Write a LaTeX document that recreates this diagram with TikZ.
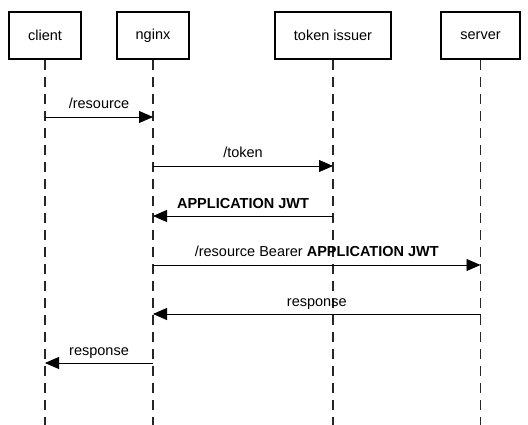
\documentclass[tikz,border=0pt]{standalone}
\usepackage{fontspec}
\setmainfont{Liberation Sans}
\usetikzlibrary{arrows.meta}

\begin{document}
\begin{tikzpicture}[x=1pt,y=-1pt,
	actor/.style={draw,line width=2.5pt,minimum height=47pt,inner sep=0pt,font=\fontsize{14.5}{17}\selectfont},
	life/.style={line width=1.3pt,dash pattern=on 10pt off 7pt,black!85},
	msg/.style={line width=0.9pt,-{Triangle[length=14pt,width=12pt]}},
	lbl/.style={midway,anchor=base,yshift=8pt,font=\fontsize{14.5}{17}\selectfont}]
	\useasboundingbox (0,0) rectangle (528,425);
	% actors
	\node[actor,minimum width=72pt] (client) at (45,35.5) {client};
	\node[actor,minimum width=72pt] (nginx) at (153,35.5) {nginx};
	\node[actor,minimum width=116pt] (issuer) at (333,35.5) {token issuer};
	\node[actor,minimum width=79pt] (server) at (480.5,35.5) {server};
	% lifelines
	\coordinate (clientend) at (45,425);
	\coordinate (nginxend) at (153,425);
	\coordinate (issuerend) at (333,425);
	\coordinate (serverend) at (480.5,425);
	\draw[life] (client) -- (clientend);
	\draw[life] (nginx) -- (nginxend);
	\draw[life] (issuer) -- (issuerend);
	\draw[life] (server) -- (serverend);
	% messages
	\coordinate (c1) at (45,117);
	\coordinate (n1) at (153,117);
	\coordinate (n2) at (153,166);
	\coordinate (t2) at (333,166);
	\coordinate (t3) at (333,216);
	\coordinate (n3) at (153,216);
	\coordinate (n4) at (153,265);
	\coordinate (s4) at (480.5,265);
	\coordinate (s5) at (480.5,314);
	\coordinate (n5) at (153,314);
	\coordinate (n6) at (153,363);
	\coordinate (c6) at (45,363);
	\draw[msg] (c1) -- (n1) node[lbl]{/resource};
	\draw[msg] (n2) -- (t2) node[lbl]{/token};
	\draw[msg] (t3) -- (n3) node[lbl]{\textbf{APPLICATION JWT}};
	\draw[msg] (n4) -- (s4) node[lbl]{/resource Bearer \textbf{APPLICATION JWT}};
	\draw[msg] (s5) -- (n5) node[lbl]{response};
	\draw[msg] (n6) -- (c6) node[lbl]{response};
\end{tikzpicture}
\end{document}
